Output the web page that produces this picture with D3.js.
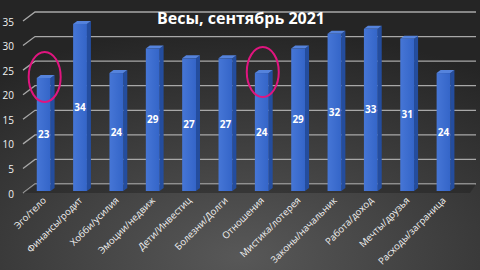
<html>
<head>
<meta charset="utf-8">
<script src="https://cdn.jsdelivr.net/npm/d3@7"></script>
<style>
body { margin: 0; background: #2b2b2b; }
svg { display: block; font-family: "Open Sans", Calibri, sans-serif; }
</style>
</head>
<body>
<script>
var width = 480, height = 270;

var categories = ['Эго/тело', 'Финансы/родит', 'Хобби/усилия', 'Эмоции/недвиж', 'Дети/Инвестиц',
  'Болезни/Долги', 'Отношения', 'Мистика/лотерея', 'Законы/начальник', 'Работа/доход',
  'Мечты/друзья', 'Расходы/заграница'];
var values = [23, 34, 24, 29, 27, 27, 24, 29, 32, 33, 31, 24];
var yTicks = [0, 5, 10, 15, 20, 25, 30, 35];
var marked = ['Эго/тело', 'Отношения'];
var title = 'Весы, сентябрь 2021';

var svg = d3.select('body').append('svg')
  .attr('width', width)
  .attr('height', height);

var defs = svg.append('defs');
var bg = defs.append('radialGradient').attr('id', 'bg')
  .attr('cx', '50%').attr('cy', '95%').attr('r', '85%');
bg.append('stop').attr('offset', '0%').attr('stop-color', '#585858');
bg.append('stop').attr('offset', '100%').attr('stop-color', '#252525');

var front = defs.append('linearGradient').attr('id', 'front')
  .attr('x1', 0).attr('x2', 1).attr('y1', 0).attr('y2', 0);
front.append('stop').attr('offset', '0%').attr('stop-color', '#4676d6');
front.append('stop').attr('offset', '100%').attr('stop-color', '#3465c8');

svg.append('rect').attr('width', width).attr('height', height).attr('fill', 'url(#bg)');

// bar front faces: first starts at 37, last at 441, 14px wide
var x = d3.scaleBand()
  .domain(categories)
  .range([18.6, 468.6])
  .paddingInner(0.62)
  .paddingOuter(0.5);

var y = d3.scaleLinear().domain([0, 35]).range([191, 19]);

// back wall depth offset
var wx = 12, wy = -9;
// bar depth offset
var bx = 4, by = -3;

// gridlines with diagonal stub
var grid = svg.append('g');
yTicks.forEach(function (t) {
  var yy = y(t);
  grid.append('path')
    .attr('d', 'M23,' + (yy + 2) + 'L' + (23 + wx) + ',' + (yy + 2 + wy) + 'H476')
    .attr('fill', 'none')
    .attr('stroke', '#a8a8a8')
    .attr('stroke-width', 1.3);
  grid.append('text')
    .attr('x', 14)
    .attr('y', yy + 3)
    .attr('dy', '0.35em')
    .attr('text-anchor', 'end')
    .attr('fill', '#f2f2f2')
    .attr('font-size', 10)
    .text(t);
});

// floor shadow
svg.append('path')
  .attr('d', 'M23,' + (y(0) + 2) + 'L35,' + (y(0) - 7) + 'H476L470,' + (y(0) + 2) + 'Z')
  .attr('fill', '#1f1f1f')
  .attr('opacity', 0.45);

var bw = x.bandwidth();
var bars = svg.append('g').selectAll('g')
  .data(values)
  .enter().append('g');

bars.append('path')
  .attr('d', function (d, i) {
    var x0 = x(categories[i]) + bw, y0 = y(d), y1 = y(0);
    return 'M' + x0 + ',' + y0 + 'L' + (x0 + bx) + ',' + (y0 + by) + 'L' + (x0 + bx) + ',' + (y1 + by) + 'L' + x0 + ',' + y1 + 'Z';
  })
  .attr('fill', '#244d9e');

bars.append('path')
  .attr('d', function (d, i) {
    var x0 = x(categories[i]), y0 = y(d);
    return 'M' + x0 + ',' + y0 + 'L' + (x0 + bx) + ',' + (y0 + by) + 'L' + (x0 + bw + bx) + ',' + (y0 + by) + 'L' + (x0 + bw) + ',' + y0 + 'Z';
  })
  .attr('fill', '#5583dc');

bars.append('rect')
  .attr('x', function (d, i) { return x(categories[i]); })
  .attr('y', function (d) { return y(d); })
  .attr('width', bw)
  .attr('height', function (d) { return y(0) - y(d); })
  .attr('fill', 'url(#front)');

bars.append('text')
  .attr('x', function (d, i) { return x(categories[i]) + bw / 2; })
  .attr('y', function (d) { return (y(d) + y(0)) / 2; })
  .attr('dy', '0.35em')
  .attr('text-anchor', 'middle')
  .attr('fill', '#ffffff')
  .attr('font-size', 10)
  .attr('font-weight', 'bold')
  .text(function (d) { return d; });

// category labels
svg.append('g').selectAll('text')
  .data(categories)
  .enter().append('text')
  .attr('transform', function (d) {
    return 'translate(' + (x(d) + bw / 2 + 3) + ',201) rotate(-45)';
  })
  .attr('text-anchor', 'end')
  .attr('fill', '#f2f2f2')
  .attr('font-size', 9.5)
  .text(function (d) { return d; });

// highlight ellipses
svg.append('g').selectAll('ellipse')
  .data(marked)
  .enter().append('ellipse')
  .attr('cx', function (d) { return x(d) + bw / 2 + 1; })
  .attr('cy', function (d) { return y(values[categories.indexOf(d)]) - 1; })
  .attr('rx', 16)
  .attr('ry', 25)
  .attr('fill', 'none')
  .attr('stroke', '#e0157f')
  .attr('stroke-width', 2);

svg.append('text')
  .attr('x', 241)
  .attr('y', 24)
  .attr('text-anchor', 'middle')
  .attr('fill', '#ffffff')
  .attr('font-size', 16)
  .attr('font-weight', 'bold')
  .text(title);
</script>
</body>
</html>
